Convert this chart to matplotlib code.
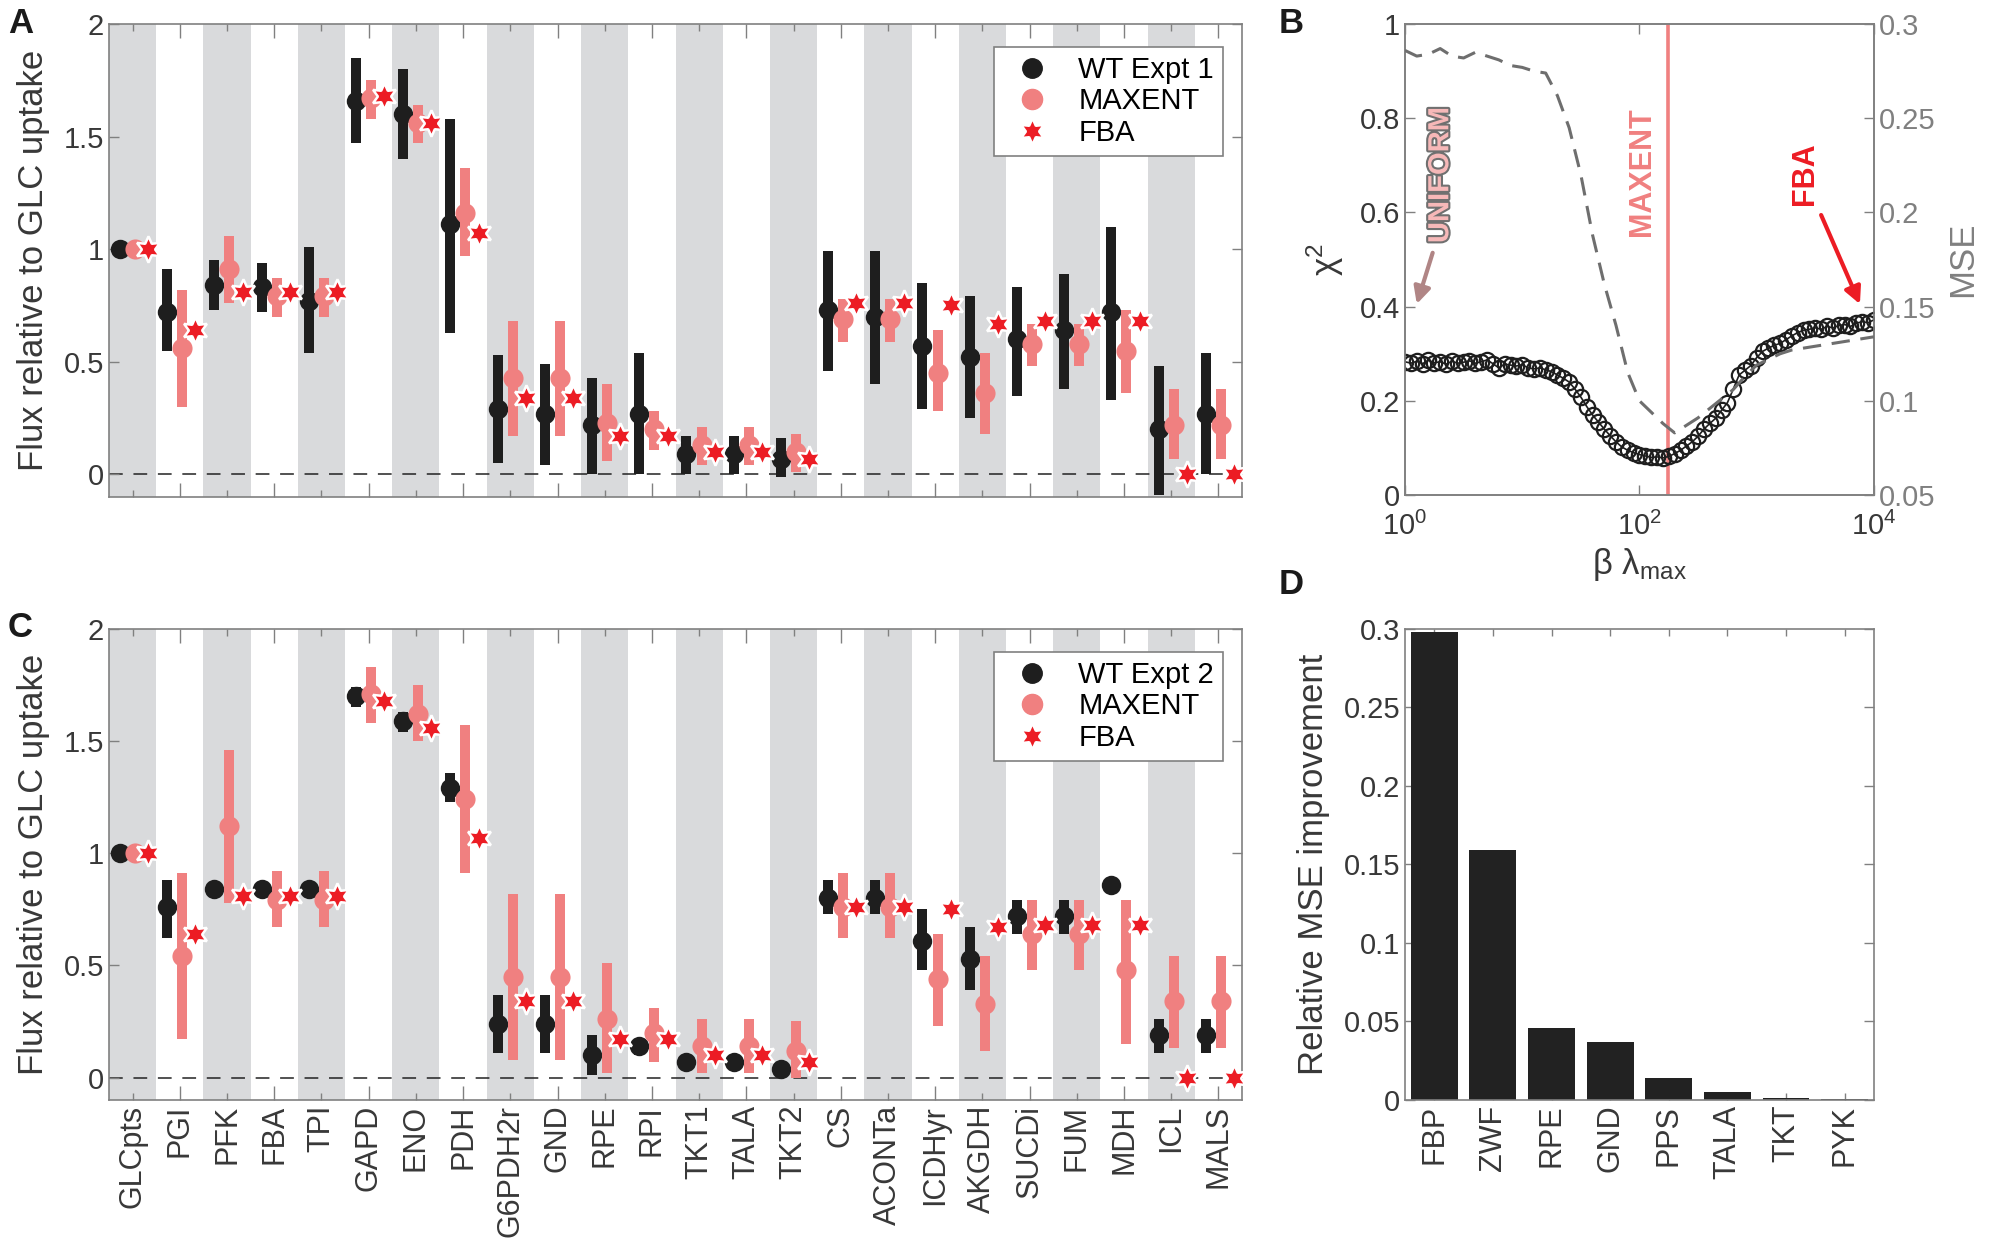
import numpy as np
import matplotlib
matplotlib.use('Agg')
import matplotlib.pyplot as plt
import matplotlib.patheffects as pe
from matplotlib.lines import Line2D

plt.rcParams['font.family'] = ['Liberation Sans', 'DejaVu Sans']
plt.rcParams['mathtext.fontset'] = 'custom'
plt.rcParams['mathtext.rm'] = 'Liberation Sans'
plt.rcParams['mathtext.it'] = 'Liberation Sans:italic'
plt.rcParams['mathtext.bf'] = 'Liberation Sans:bold'

# ---------------- data ----------------
reactions = ['GLCpts', 'PGI', 'PFK', 'FBA', 'TPI', 'GAPD', 'ENO', 'PDH', 'G6PDH2r', 'GND',
             'RPE', 'RPI', 'TKT1', 'TALA', 'TKT2', 'CS', 'ACONTa', 'ICDHyr', 'AKGDH', 'SUCDi',
             'FUM', 'MDH', 'ICL', 'MALS']

# panel A: experiment 1
wt1 = [1.0, 0.72, 0.84, 0.83, 0.77, 1.66, 1.60, 1.11, 0.29, 0.27, 0.22, 0.27, 0.09, 0.09, 0.07,
       0.73, 0.70, 0.57, 0.52, 0.60, 0.64, 0.72, 0.20, 0.27]
wt1_lo = [1.0, 0.55, 0.73, 0.72, 0.54, 1.47, 1.40, 0.63, 0.05, 0.04, 0.0, 0.0, 0.0, 0.0, -0.01,
          0.46, 0.40, 0.29, 0.25, 0.35, 0.38, 0.33, -0.09, 0.0]
wt1_hi = [1.0, 0.91, 0.95, 0.94, 1.01, 1.85, 1.80, 1.58, 0.53, 0.49, 0.43, 0.54, 0.17, 0.17, 0.16,
          0.99, 0.99, 0.85, 0.79, 0.83, 0.89, 1.10, 0.48, 0.54]
me1 = [1.0, 0.56, 0.91, 0.79, 0.79, 1.67, 1.56, 1.16, 0.43, 0.43, 0.23, 0.20, 0.13, 0.13, 0.10,
       0.69, 0.69, 0.45, 0.36, 0.58, 0.58, 0.55, 0.22, 0.22]
me1_lo = [1.0, 0.30, 0.76, 0.70, 0.70, 1.58, 1.47, 0.97, 0.17, 0.17, 0.06, 0.11, 0.04, 0.04, 0.01,
          0.59, 0.59, 0.28, 0.18, 0.48, 0.48, 0.36, 0.07, 0.07]
me1_hi = [1.0, 0.82, 1.06, 0.87, 0.87, 1.75, 1.64, 1.36, 0.68, 0.68, 0.40, 0.28, 0.21, 0.21, 0.18,
          0.78, 0.78, 0.64, 0.54, 0.67, 0.67, 0.73, 0.38, 0.38]

# panel C: experiment 2
wt2 = [1.0, 0.76, 0.84, 0.84, 0.84, 1.70, 1.59, 1.29, 0.24, 0.24, 0.10, 0.14, 0.07, 0.07, 0.04,
       0.80, 0.80, 0.61, 0.53, 0.72, 0.72, 0.86, 0.19, 0.19]
wt2_lo = [1.0, 0.62, 0.84, 0.84, 0.84, 1.65, 1.54, 1.23, 0.11, 0.11, 0.01, 0.10, 0.07, 0.07, 0.04,
          0.73, 0.73, 0.48, 0.39, 0.64, 0.64, 0.86, 0.11, 0.11]
wt2_hi = [1.0, 0.88, 0.84, 0.84, 0.84, 1.74, 1.63, 1.36, 0.37, 0.37, 0.19, 0.17, 0.07, 0.07, 0.04,
          0.88, 0.88, 0.75, 0.67, 0.79, 0.79, 0.86, 0.26, 0.26]
me2 = [1.0, 0.54, 1.12, 0.79, 0.79, 1.71, 1.62, 1.24, 0.45, 0.45, 0.26, 0.20, 0.14, 0.14, 0.12,
       0.76, 0.76, 0.44, 0.33, 0.64, 0.64, 0.48, 0.34, 0.34]
me2_lo = [1.0, 0.17, 0.78, 0.67, 0.67, 1.58, 1.50, 0.91, 0.08, 0.08, 0.02, 0.07, 0.02, 0.02, 0.0,
          0.62, 0.62, 0.23, 0.12, 0.48, 0.48, 0.15, 0.13, 0.13]
me2_hi = [1.0, 0.91, 1.46, 0.92, 0.92, 1.83, 1.75, 1.57, 0.82, 0.82, 0.51, 0.31, 0.26, 0.26, 0.25,
          0.91, 0.91, 0.64, 0.54, 0.79, 0.79, 0.79, 0.54, 0.54]

# FBA prediction (same in both panels)
fba = [1.0, 0.64, 0.81, 0.81, 0.81, 1.68, 1.56, 1.07, 0.34, 0.34, 0.17, 0.17, 0.10, 0.10, 0.07,
       0.76, 0.76, 0.75, 0.67, 0.68, 0.68, 0.68, 0.0, 0.0]

# panel B: sweep of beta*lambda_max (log10 values)
beta_exp = [0.00, 0.05, 0.10, 0.15, 0.20, 0.25, 0.30, 0.35, 0.40, 0.45, 0.50, 0.55, 0.60, 0.65,
            0.70, 0.75, 0.80, 0.85, 0.90, 0.95, 1.00, 1.05, 1.10, 1.15, 1.20, 1.25, 1.30, 1.35,
            1.40, 1.45, 1.50, 1.55, 1.60, 1.65, 1.70, 1.75, 1.80, 1.85, 1.90, 1.95, 2.00, 2.05,
            2.10, 2.15, 2.20, 2.25, 2.30, 2.35, 2.40, 2.45, 2.50, 2.55, 2.60, 2.65, 2.70, 2.75,
            2.80, 2.85, 2.90, 2.95, 3.00, 3.05, 3.10, 3.15, 3.20, 3.25, 3.30, 3.35, 3.40, 3.45,
            3.50, 3.55, 3.60, 3.65, 3.70, 3.75, 3.80, 3.85, 3.90, 3.95, 4.00]
chi2 = [0.283, 0.280, 0.284, 0.279, 0.286, 0.281, 0.283, 0.278, 0.284, 0.280, 0.282, 0.285, 0.280,
        0.283, 0.287, 0.279, 0.270, 0.278, 0.276, 0.274, 0.277, 0.270, 0.268, 0.270, 0.266, 0.262,
        0.255, 0.248, 0.240, 0.225, 0.208, 0.188, 0.170, 0.155, 0.140, 0.126, 0.113, 0.102, 0.095,
        0.090, 0.086, 0.083, 0.080, 0.081, 0.079, 0.082, 0.088, 0.095, 0.104, 0.113, 0.125, 0.140,
        0.152, 0.163, 0.180, 0.196, 0.225, 0.255, 0.265, 0.275, 0.292, 0.305, 0.312, 0.318, 0.322,
        0.330, 0.338, 0.345, 0.350, 0.352, 0.355, 0.352, 0.358, 0.355, 0.360, 0.362, 0.358, 0.365,
        0.368, 0.366, 0.372]
mse_exp = [0.0, 0.1, 0.2, 0.3, 0.4, 0.5, 0.6, 0.7, 0.8, 0.9, 1.0, 1.1, 1.2, 1.3, 1.4, 1.5, 1.6,
           1.7, 1.8, 1.9, 2.0, 2.1, 2.2, 2.3, 2.4, 2.5, 2.6, 2.7, 2.8, 2.9, 3.0, 3.1, 3.2, 3.3,
           3.4, 3.5, 3.6, 3.7, 3.8, 3.9, 4.0]
mse = [0.286, 0.283, 0.284, 0.287, 0.283, 0.282, 0.285, 0.283, 0.281, 0.278, 0.277, 0.275, 0.274,
       0.262, 0.245, 0.220, 0.188, 0.162, 0.140, 0.115, 0.100, 0.094, 0.088, 0.083, 0.087, 0.091,
       0.096, 0.101, 0.106, 0.113, 0.119, 0.122, 0.125, 0.127, 0.128, 0.129, 0.130, 0.131, 0.132,
       0.133, 0.134]
maxent_beta = 175

# panel D
knockouts = ['FBP', 'ZWF', 'RPE', 'GND', 'PPS', 'TALA', 'TKT', 'PYK']
mse_gain = [0.298, 0.159, 0.046, 0.037, 0.014, 0.005, 0.0015, 0.0004]

# ---------------- style ----------------
WT_C = '#1e1e1e'
ME_C = '#f08080'
FBA_C = '#ec1c24'
STRIPE = '#d9dadc'
SPINE = '#808080'
TXT = '#383838'
TICK_FS = 21
LAB_FS = 25
STAR = (6, 1, 0)


def style_axes(ax):
    for s in ax.spines.values():
        s.set_color(SPINE)
        s.set_linewidth(1.2)
    ax.tick_params(direction='in', colors=SPINE, labelcolor=TXT, labelsize=TICK_FS,
                   width=1.0, length=7, top=True, right=True)


def flux_panel(ax, wt, wt_lo, wt_hi, me, me_lo, me_hi, wt_label):
    n = len(reactions)
    x = np.arange(n)
    for i in range(0, n, 2):
        ax.axvspan(i - 0.5, i + 0.5, color=STRIPE, lw=0, zorder=0)
    ax.axhline(0, color='#222222', lw=1.1, ls=(0, (9, 7)), zorder=1)
    ax.vlines(x - 0.27, wt_lo, wt_hi, color=WT_C, lw=7.2, zorder=2, capstyle='butt')
    ax.plot(x - 0.27, wt, 'o', ms=14, color=WT_C, mew=0, zorder=3)
    ax.vlines(x + 0.05, me_lo, me_hi, color=ME_C, lw=7.2, zorder=4, capstyle='butt')
    ax.plot(x + 0.05, me, 'o', ms=14.5, color=ME_C, mew=0, zorder=5)
    ax.plot(x + 0.33, fba, ls='none', marker=STAR, ms=19, mfc=FBA_C, mec='white',
            mew=1.8, zorder=6)
    ax.set_xlim(-0.5, n - 0.5)
    ax.set_ylim(-0.1, 2)
    style_axes(ax)
    ax.set_yticks([0, 0.5, 1, 1.5, 2])
    ax.set_yticklabels(['0', '0.5', '1', '1.5', '2'])
    ax.set_xticks(x)
    ax.set_xticklabels(reactions, rotation=90, fontsize=22)
    for i, t in enumerate(ax.xaxis.get_major_ticks()):
        L = 10 if i % 2 == 1 else 5
        t.tick1line.set_markersize(L)
        t.tick2line.set_markersize(L)
    ax.set_ylabel('Flux relative to GLC uptake', fontsize=LAB_FS, color=TXT, labelpad=10)
    handles = [Line2D([], [], ls='none', marker='o', ms=14, color=WT_C),
               Line2D([], [], ls='none', marker='o', ms=14.5, color=ME_C),
               Line2D([], [], ls='none', marker=STAR, ms=19, mfc=FBA_C, mec='white', mew=1.8)]
    leg = ax.legend(handles, [wt_label, 'MAXENT', 'FBA'], loc='upper right',
                    bbox_to_anchor=(0.983, 0.951), borderaxespad=0, fontsize=21,
                    frameon=True, fancybox=False, framealpha=1, edgecolor=SPINE,
                    labelspacing=0.12, handletextpad=0.6, borderpad=0.3, handlelength=2.0)
    leg.get_frame().set_linewidth(1.2)
    leg.set_zorder(10)


fig = plt.figure(figsize=(20.04, 12.6), dpi=100)

axA = fig.add_axes([0.0544, 0.6056, 0.5654, 0.3754])
axC = fig.add_axes([0.0544, 0.1270, 0.5654, 0.3738])
axB = fig.add_axes([0.7011, 0.6071, 0.2340, 0.3738])
axD = fig.add_axes([0.7011, 0.1270, 0.2340, 0.3738])

flux_panel(axA, wt1, wt1_lo, wt1_hi, me1, me1_lo, me1_hi, 'WT Expt 1')
axA.set_xticklabels([])
flux_panel(axC, wt2, wt2_lo, wt2_hi, me2, me2_lo, me2_hi, 'WT Expt 2')

# ---------------- panel B ----------------
beta = 10 ** np.array(beta_exp)
beta_m = 10 ** np.array(mse_exp)
axB.set_xscale('log')
axB.axvline(maxent_beta, color=ME_C, lw=2.6, zorder=2)
axB.plot(beta, chi2, '-o', color='#1e1e1e', mfc='none', ms=11, mew=1.6, lw=1.2, zorder=3)
axB.set_xlim(1, 1e4)
axB.set_ylim(0, 1)
style_axes(axB)
axB.tick_params(right=False)
axB.tick_params(axis='x', pad=12)
axB.set_xticks([1, 100, 10000])
axB.set_xticklabels(['$10^0$', '$10^2$', '$10^4$'])
axB.xaxis.set_minor_locator(matplotlib.ticker.NullLocator())
axB.set_yticks([0, 0.2, 0.4, 0.6, 0.8, 1])
axB.set_yticklabels(['0', '0.2', '0.4', '0.6', '0.8', '1'])
axB.set_ylabel('χ$^2$', fontsize=LAB_FS, color=TXT, labelpad=10)
axB.set_xlabel('β λ$_{\\mathrm{max}}$', fontsize=LAB_FS, color=TXT, labelpad=4)

axB2 = axB.twinx()
axB2.plot(beta_m, mse, color='#6e6e6e', lw=2.2, ls=(0, (6, 3.5)), zorder=4)
axB2.set_ylim(0.05, 0.3)
axB2.set_xlim(1, 1e4)
for s in axB2.spines.values():
    s.set_color(SPINE)
    s.set_linewidth(1.2)
axB2.tick_params(direction='in', colors=SPINE, labelcolor='#808080', labelsize=TICK_FS,
                 width=1.0, length=7)
axB2.set_yticks([0.05, 0.1, 0.15, 0.2, 0.25, 0.3])
axB2.set_yticklabels(['0.05', '0.1', '0.15', '0.2', '0.25', '0.3'])
axB2.set_ylabel('MSE', fontsize=LAB_FS, color='#808080', labelpad=8)

axB.text(2.0, 0.535, 'UNIFORM', rotation=90, ha='center', va='bottom', fontsize=21,
         fontweight='bold', color='#f6b8b8',
         path_effects=[pe.withStroke(linewidth=3, foreground='#707070')], zorder=5)
axB.annotate('', xy=(1.24, 0.40), xytext=(1.75, 0.52),
             arrowprops=dict(arrowstyle='-|>', color='#b08585', lw=3, mutation_scale=25))
axB.text(105, 0.55, 'MAXENT', rotation=90, ha='center', va='bottom', fontsize=22,
         fontweight='bold', color=ME_C, zorder=5)
axB.text(2570, 0.616, 'FBA', rotation=90, ha='center', va='bottom', fontsize=22,
         fontweight='bold', color=FBA_C, zorder=5)
axB.annotate('', xy=(10 ** 3.89, 0.40), xytext=(10 ** 3.54, 0.60),
             arrowprops=dict(arrowstyle='-|>', color=FBA_C, lw=3, mutation_scale=25))

# ---------------- panel D ----------------
xd = np.arange(len(knockouts))
axD.bar(xd, mse_gain, width=0.8, color='#222222', zorder=2)
axD.set_xlim(-0.5, len(knockouts) - 0.5)
axD.set_ylim(0, 0.3)
style_axes(axD)
axD.set_xticks(xd)
axD.set_xticklabels(knockouts, rotation=90, fontsize=22)
axD.tick_params(axis='x', length=5)
axD.set_yticks([0, 0.05, 0.1, 0.15, 0.2, 0.25, 0.3])
axD.set_yticklabels(['0', '0.05', '0.1', '0.15', '0.2', '0.25', '0.3'])
axD.set_ylabel('Relative MSE improvement', fontsize=LAB_FS, color=TXT, labelpad=10)

# panel letters
for lab, xx, yy in [('A', 0.004, 0.981), ('B', 0.638, 0.981), ('C', 0.004, 0.502),
                    ('D', 0.638, 0.536)]:
    fig.text(xx, yy, lab, fontsize=25, fontweight='bold', color='#1a1a1a', va='center')

fig.savefig('out.png', dpi=100)
